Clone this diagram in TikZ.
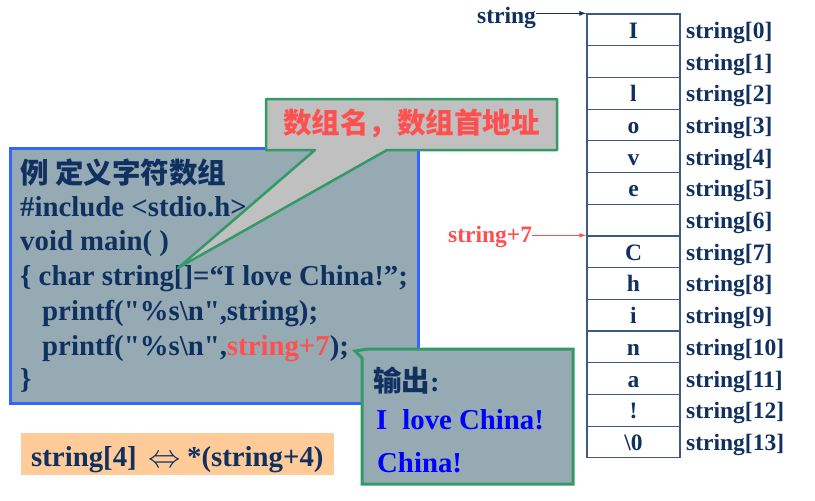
\documentclass[tikz,border=0pt]{standalone}
\usepackage{fontspec}
\setmainfont{Liberation Serif}[Ligatures=TeXOff]
\newfontfamily\cjk{Noto Sans CJK SC}
\usetikzlibrary{arrows.meta,positioning}

\definecolor{navy}{RGB}{16,48,96}
\definecolor{hired}{RGB}{255,80,80}
\definecolor{outblue}{RGB}{0,0,255}
\definecolor{codefill}{RGB}{150,170,179}
\definecolor{boxblue}{RGB}{51,102,255}
\definecolor{callgreen}{RGB}{51,153,102}
\definecolor{callgray}{RGB}{192,192,192}
\definecolor{eqfill}{RGB}{255,204,153}
\definecolor{cellline}{RGB}{60,90,130}

\tikzset{
  codeline/.style={anchor=base west,inner sep=0pt,text=navy,font=\bfseries\fontsize{28.8}{34}\selectfont},
  cell/.style={draw=cellline,line width=1.2pt,minimum width=93pt,minimum height=31.7pt,inner sep=0pt,text height=18pt,text depth=1pt,text=navy,font=\bfseries\fontsize{23.5}{28}\selectfont},
  idx/.style={anchor=base west,inner sep=0pt,text=navy,font=\bfseries\fontsize{23.5}{28}\selectfont},
  cn/.style={anchor=base west,inner sep=0pt,font=\cjk\bfseries\fontsize{28.5}{34}\selectfont},
}

\begin{document}
\begin{tikzpicture}[x=1pt,y=-1pt,>=Latex]
\useasboundingbox (0,0) rectangle (815,501);

% code box
\node[draw=boxblue,line width=3pt,fill=codefill,minimum width=408pt,minimum height=255pt,inner sep=0pt] (codebox) at (214,275.5) {};
\node[cn,text=navy] (title) at (20,183) {例 定义字符数组};
\node[codeline] (l1) at (20,216) {\#include <stdio.h>};
\node[codeline] (l2) at (20,250) {void main( )};
\node[codeline] (l3) at (20,285) {\{ char string[]=“I love China!”;};
\node[codeline] (l4) at (42,320) {printf("\%s\textbackslash n",string);};
\node[codeline] (l5) at (42,355) {printf("\%s\textbackslash n",\textcolor{hired}{string+7});};
\node[codeline] (l6) at (20,388) {\}};

% callout
\draw[line width=2.5pt,draw=callgreen,fill=callgray,line join=round] (266,99) -- (557,99) -- (557,150) -- (387,150) -- (178,268) -- (315,150) -- (266,150) -- cycle;
\node[cn,text=hired] (tip) at (283,133) {数组名，数组首地址};

% output
\draw[line width=3pt,draw=callgreen,fill=codefill] (368,349) -- (573,349) -- (573,484) -- (362,484) -- (362,358) -- (355,351) -- cycle;
\node[cn,text=navy] (outhead) at (373,391) {输出\rmfamily:};
\node[codeline,text=outblue] (out1) at (376,429) {I\hspace{15pt}love China!};
\node[codeline,text=outblue] (out2) at (377,472) {China!};

% equivalence
\node[fill=eqfill,minimum width=313pt,minimum height=42.5pt,inner sep=0pt] (eqbox) at (177.5,453.75) {};
\node[codeline] (eq) at (31,466) {string[4]\hspace{12pt}\raisebox{-1pt}{\scalebox{1.3}{$\Leftrightarrow$}}\hspace{6pt}*(string+4)};

% array
\foreach \ch [count=\i from 0] in {I,{},l,o,v,e,{},C,h,i,n,a,!,{\textbackslash 0}}
  \node[cell] (c\i) at (633.5,{14+31.7*(\i+0.5)}) {\ch};
\foreach \i in {0,...,13}
  \node[idx] (s\i) at (686,{14+31.7*(\i+0.5)+8.5}) {string[\i]};

\node[idx] (ptr) at (477,23) {string};
\node[idx,text=hired] (p7) at (448,242) {string+7};
\draw[navy,line width=1pt,-{Latex[length=7pt,width=5pt]}] (ptr.east |- c0.north west) -- (c0.north west);
\draw[hired,line width=0.8pt,-{Latex[length=7pt,width=4.5pt]}] (p7.east |- c7.north west) -- (c7.north west);
\end{tikzpicture}
\end{document}
